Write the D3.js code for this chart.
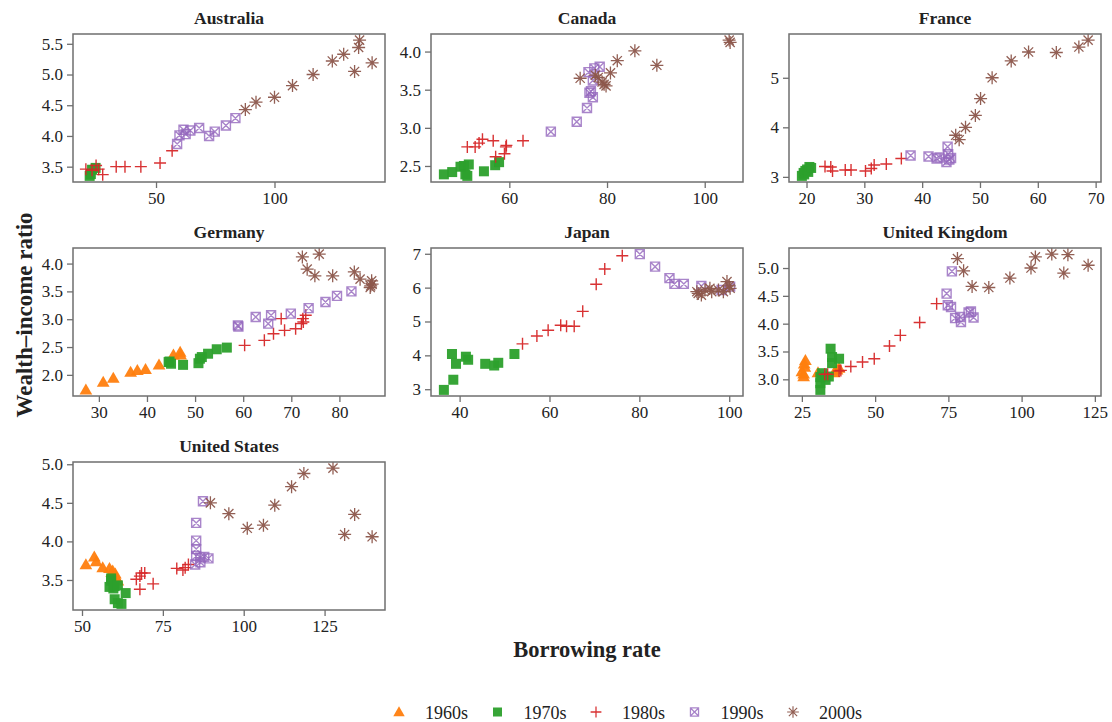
<!DOCTYPE html>
<html>
<head>
<meta charset="utf-8">
<script src="https://cdn.jsdelivr.net/npm/d3@7"></script>
<style>
  body { margin: 0; background: #fff; }
  svg text { font-family: "Liberation Serif", "DejaVu Serif", "Times New Roman", Times, serif; fill: #222; }
</style>
</head>
<body>
<svg id="chart" width="1112" height="722"></svg>
<script>
var decades = ["1960s", "1970s", "1980s", "1990s", "2000s"];
var colors = ["#ff7f0e", "#2ca02c", "#d62728", "#9467bd", "#8c564b"];
var countries = ["Australia", "Canada", "France", "Germany", "Japan", "United Kingdom", "United States"];

// [borrowing rate, wealth-income ratio], one list per decade
var australia = [
  [],
  [[22, 3.35], [22.5, 3.38], [24.5, 3.48], [23, 3.45]],
  [[20.4, 3.46], [23, 3.44], [24.7, 3.52], [25.8, 3.46], [27.5, 3.37], [33.2, 3.5], [36.9, 3.5], [43.6, 3.5], [51.7, 3.56], [56.8, 3.76]],
  [[58.9, 3.87], [59.9, 4.01], [61.6, 4.1], [62.5, 4.03], [64.5, 4.09], [68.2, 4.13], [72.4, 4.0], [74.8, 4.07], [79.5, 4.17], [83.5, 4.29]],
  [[87.7, 4.43], [92.2, 4.55], [100, 4.63], [107.6, 4.82], [116.3, 5.0], [124.4, 5.22], [129.2, 5.33], [133.8, 5.05], [135.5, 5.44], [135.9, 5.56], [141.2, 5.19]]
];
var canada = [
  [],
  [[46.6, 2.39], [48.3, 2.42], [50, 2.49], [50.7, 2.5], [51, 2.39], [51.4, 2.37], [51.7, 2.52], [54.8, 2.43], [57.1, 2.51], [57.9, 2.55]],
  [[51.4, 2.75], [53, 2.75], [53.8, 2.8], [54.5, 2.85], [56.7, 2.83], [57.2, 2.62], [59, 2.66], [59.3, 2.75], [59.4, 2.77], [62.8, 2.83]],
  [[68.5, 2.95], [73.8, 3.08], [75.9, 3.26], [76.4, 3.46], [76.7, 3.48], [77.1, 3.4], [77.1, 3.62], [76.2, 3.73], [77.4, 3.78], [78.5, 3.8]],
  [[74.5, 3.65], [77.6, 3.69], [78.2, 3.66], [79, 3.6], [79.4, 3.57], [79.8, 3.55], [80.7, 3.72], [82.1, 3.88], [85.7, 4.01], [90.2, 3.82], [105, 4.15], [105.2, 4.12]]
];
var france = [
  [],
  [[19.2, 3.02], [19.5, 3.08], [19.6, 3.05], [19.8, 3.12], [20.1, 3.15], [20.3, 3.1], [20.5, 3.2], [20.8, 3.18]],
  [[23.2, 3.21], [24.2, 3.2], [24.5, 3.12], [26.7, 3.14], [27.7, 3.14], [30.2, 3.12], [31.2, 3.17], [31.7, 3.24], [33.8, 3.26], [36.4, 3.37]],
  [[38, 3.43], [41.1, 3.41], [42.5, 3.37], [43, 3.39], [44.2, 3.3], [44.4, 3.61], [44.5, 3.46], [44.7, 3.35], [45, 3.38]],
  [[45.8, 3.84], [46.4, 3.75], [47.5, 4.0], [49.2, 4.24], [50.1, 4.58], [52.1, 5.0], [55.4, 5.34], [58.4, 5.52], [63.2, 5.51], [67.1, 5.62], [68.7, 5.76]]
];
var germany = [
  [[27.3, 1.73], [30.9, 1.87], [33, 1.94], [36.6, 2.05], [38, 2.08], [39.7, 2.1], [42.5, 2.18], [45.5, 2.36], [46.9, 2.41], [47, 2.36]],
  [[44.5, 2.23], [44.7, 2.24], [45, 2.2], [47.5, 2.18], [50.7, 2.21], [51, 2.29], [51.4, 2.32], [52.7, 2.38], [54.5, 2.46], [56.6, 2.49]],
  [[60.3, 2.53], [64.4, 2.62], [66.3, 2.74], [67.9, 3.01], [68.6, 2.8], [70.9, 2.83], [72.1, 2.92], [72.4, 3.01], [72.5, 2.95], [73, 3.07]],
  [[58.9, 2.89], [59, 2.87], [62.6, 3.04], [65.2, 2.92], [65.8, 3.07], [69.9, 3.1], [73.6, 3.2], [77.1, 3.31], [79.5, 3.42], [82.5, 3.5]],
  [[72.3, 4.12], [73.3, 3.9], [74.9, 3.78], [75.8, 4.17], [78.6, 3.78], [83.1, 3.85], [84.3, 3.72], [86.4, 3.57], [86.5, 3.6], [86.7, 3.69], [86.8, 3.63]]
];
var japan = [
  [],
  [[36.5, 2.98], [38.6, 3.28], [38.3, 4.04], [39.2, 3.75], [41.4, 3.96], [41.9, 3.87], [45.7, 3.75], [47.7, 3.7], [48.6, 3.78], [52.2, 4.04]],
  [[54, 4.34], [57.2, 4.57], [59.7, 4.74], [62.5, 4.89], [63.8, 4.86], [65.5, 4.86], [67.4, 5.3], [70.4, 6.1], [72.3, 6.55], [76.2, 6.94]],
  [[80.1, 6.99], [83.5, 6.62], [86.7, 6.28], [87.8, 6.11], [89.9, 6.11], [93.8, 6.05], [98.3, 5.93], [100.2, 6.03]],
  [[92.8, 5.88], [93.1, 5.83], [93.8, 5.78], [94.6, 5.93], [95.7, 5.98], [96.1, 5.88], [97.6, 5.93], [98.7, 5.88], [99.5, 6.18], [100, 6.05], [100.2, 5.98]]
];
var unitedKingdom = [
  [[25, 3.14], [25.6, 3.05], [25.6, 3.1], [26, 3.22], [26.2, 3.34], [25.8, 3.28], [30.5, 3.12], [36, 3.12], [37, 3.17], [37.7, 3.2]],
  [[31.3, 2.81], [31.3, 2.93], [31.3, 3.04], [31.9, 3.11], [33.1, 2.99], [34.2, 3.05], [34.8, 3.55], [35.3, 3.4], [35.3, 3.29], [37.7, 3.37]],
  [[32.8, 3.09], [33.8, 3.09], [37.7, 3.15], [38.3, 3.16], [41.7, 3.23], [45.7, 3.31], [49.7, 3.37], [54.9, 3.6], [58.6, 3.79], [65.2, 4.02], [71, 4.36]],
  [[76.2, 4.94], [74.4, 4.54], [74.8, 4.33], [75.9, 4.3], [77.3, 4.1], [79.3, 4.03], [79, 4.12], [81.9, 4.2], [82.7, 4.22], [83.6, 4.11]],
  [[78.1, 5.17], [80.2, 4.95], [83.1, 4.67], [88.8, 4.65], [96, 4.82], [103.2, 5.0], [104.7, 5.2], [110.3, 5.25], [114.4, 4.91], [115.8, 5.24], [122.7, 5.05]]
];
var unitedStates = [
  [[51.2, 3.7], [53.8, 3.8], [54.4, 3.74], [56.4, 3.66], [58.5, 3.65], [59.2, 3.6], [59.5, 3.62], [60.3, 3.58], [60.6, 3.53], [61.1, 3.49]],
  [[59, 3.52], [59, 3.49], [58.5, 3.41], [59.7, 3.39], [60.1, 3.42], [61.1, 3.43], [60.1, 3.25], [61.1, 3.2], [62.2, 3.19], [63.5, 3.33]],
  [[66.8, 3.51], [67.9, 3.55], [68.4, 3.59], [69.4, 3.59], [67.9, 3.38], [72, 3.45], [79.3, 3.65], [81.2, 3.63], [81.9, 3.66], [82.9, 3.7]],
  [[87.4, 4.52], [85.3, 4.24], [85.3, 4.01], [85.3, 3.9], [85.3, 3.81], [85, 3.7], [86.6, 3.73], [86.6, 3.79], [87.8, 3.8], [89.1, 3.78]],
  [[89.7, 4.5], [95.4, 4.36], [101.1, 4.17], [106.1, 4.21], [109.6, 4.47], [114.8, 4.71], [118.6, 4.88], [127.6, 4.95], [131.2, 4.09], [134.3, 4.35], [139.7, 4.06]]
];
var panelData = [australia, canada, france, germany, japan, unitedKingdom, unitedStates];

var xTicks = [[50, 100], [60, 80, 100], [20, 30, 40, 50, 60, 70], [30, 40, 50, 60, 70, 80], [40, 60, 80, 100], [25, 50, 75, 100, 125], [50, 75, 100, 125]];
var yTicks = [[3.5, 4.0, 4.5, 5.0, 5.5], [2.5, 3.0, 3.5, 4.0], [3, 4, 5], [2.0, 2.5, 3.0, 3.5, 4.0], [3, 4, 5, 6, 7], [3.0, 3.5, 4.0, 4.5, 5.0], [3.5, 4.0, 4.5, 5.0]];
var yFormats = [".1f", ".1f", "d", ".1f", "d", ".1f", ".1f"];

var serif = "'Liberation Serif', 'DejaVu Serif', 'Times New Roman', Times, serif";
var svg = d3.select("#chart").attr("font-family", serif);
var frameColor = "#6f6f6f";
var colLeft = [73, 431, 789], panelW = 312;
var rowTop = [34, 248, 462], panelH = 148;

// R pch-like markers
var markers = [
  function (g) { g.append("path").attr("d", d3.symbol(d3.symbolTriangle, 70)()).attr("transform", "translate(0,1)"); },
  function (g) { g.append("rect").attr("x", -5).attr("y", -5).attr("width", 10).attr("height", 10); },
  function (g) { g.append("path").attr("d", "M-6,0H6M0,-6V6").attr("fill", "none").attr("stroke-width", 1.4); },
  function (g) {
    g.append("path").attr("d", "M-4.5,-4.5H4.5V4.5H-4.5ZM-4.5,-4.5L4.5,4.5M4.5,-4.5L-4.5,4.5")
      .attr("fill", "none").attr("stroke-width", 1.4);
  },
  function (g) {
    g.append("path").attr("d", "M-6.5,0H6.5M0,-6.5V6.5M-4.6,-4.6L4.6,4.6M4.6,-4.6L-4.6,4.6")
      .attr("fill", "none").attr("stroke-width", 1.3);
  }
];

function drawMarker(sel, k) {
  sel.each(function () {
    var g = d3.select(this)
      .attr("fill", colors[k]).attr("stroke", colors[k])
      .attr("opacity", k === 3 ? 0.8 : 0.95);
    if (k < 2) g.attr("stroke", "none");
    markers[k](g);
  });
}

countries.forEach(function (name, i) {
  var left = colLeft[i % 3], top = rowTop[Math.floor(i / 3)];
  var all = d3.merge(panelData[i]);
  var xe = d3.extent(all, function (d) { return d[0]; });
  var ye = d3.extent(all, function (d) { return d[1]; });
  var xp = (xe[1] - xe[0]) * 0.045, yp = (ye[1] - ye[0]) * 0.045;
  var x = d3.scaleLinear().domain([xe[0] - xp, xe[1] + xp]).range([left, left + panelW]);
  var y = d3.scaleLinear().domain([ye[0] - yp, ye[1] + yp]).range([top + panelH, top]);

  var g = svg.append("g");
  g.append("text")
    .attr("x", left + panelW / 2).attr("y", top - 10)
    .attr("text-anchor", "middle").attr("font-size", 17.5).attr("font-weight", "bold")
    .text(name);

  var xAxis = g.append("g").attr("transform", "translate(0," + (top + panelH) + ")")
    .call(d3.axisBottom(x).tickValues(xTicks[i]).tickSize(6).tickPadding(4).tickFormat(d3.format("d")));
  var yAxis = g.append("g").attr("transform", "translate(" + left + ",0)")
    .call(d3.axisLeft(y).tickValues(yTicks[i]).tickSize(6).tickPadding(4).tickFormat(d3.format(yFormats[i])));
  [xAxis, yAxis].forEach(function (a) {
    a.attr("font-family", serif).attr("font-size", 17);
    a.select(".domain").remove();
    a.selectAll(".tick line").attr("stroke", frameColor).attr("stroke-width", 1.3);
    a.selectAll(".tick text").attr("fill", "#222");
  });

  var clipId = "clip" + i;
  g.append("clipPath").attr("id", clipId).append("rect")
    .attr("x", left).attr("y", top).attr("width", panelW).attr("height", panelH);
  var pts = g.append("g").attr("clip-path", "url(#" + clipId + ")");
  panelData[i].forEach(function (series, k) {
    pts.selectAll(null).data(series).enter().append("g")
      .attr("transform", function (d) { return "translate(" + x(d[0]) + "," + y(d[1]) + ")"; })
      .call(drawMarker, k);
  });

  g.append("rect")
    .attr("x", left).attr("y", top).attr("width", panelW).attr("height", panelH)
    .attr("fill", "none").attr("stroke", frameColor).attr("stroke-width", 1.5);
});

svg.append("text")
  .attr("transform", "translate(32,315) rotate(-90)")
  .attr("text-anchor", "middle").attr("font-size", 23).attr("font-weight", "bold")
  .text("Wealth\u2013income ratio");

svg.append("text")
  .attr("x", 587).attr("y", 657)
  .attr("text-anchor", "middle").attr("font-size", 22.5).attr("font-weight", "bold")
  .text("Borrowing rate");

var legend = svg.append("g");
decades.forEach(function (d, k) {
  var lx = 399 + k * 98.5;
  legend.append("g").attr("transform", "translate(" + lx + ",712) scale(0.9)").call(drawMarker, k);
  legend.append("text").attr("x", lx + 26).attr("y", 719).attr("font-size", 18).text(d);
});
</script>
</body>
</html>
